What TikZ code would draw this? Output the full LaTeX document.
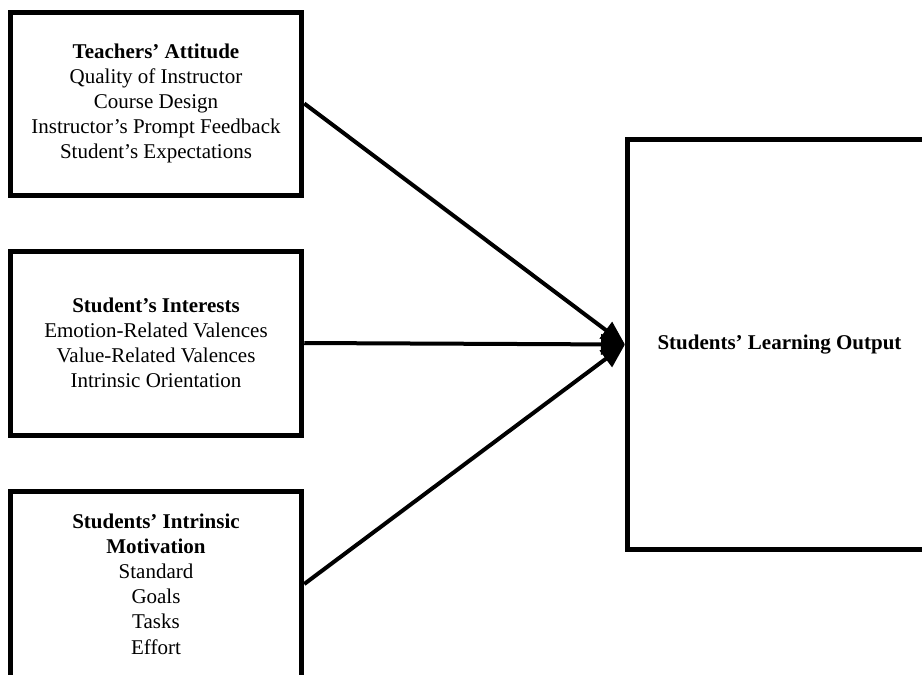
\documentclass[tikz,border=0pt]{standalone}
\usepackage{fontspec}
\setmainfont{Liberation Serif}
\usetikzlibrary{arrows.meta}
\tikzset{
	factor/.style={draw, line width=2.5pt, align=center, minimum width=145.75pt,
		font=\fontsize{10.5}{12.6}\selectfont},
	link/.style={line width=2pt, -{Triangle[length=12pt,width=10pt]}}
}

\begin{document}
\begin{tikzpicture}[x=0.5pt, y=-0.5pt]
		%%%%% START %%%%%
		
		\useasboundingbox (0, 0) rectangle (922, 675);
		\clip (0, 0) rectangle (922, 675);
		
		\node[factor, minimum height=91.5pt] (attitude) at (156, 103.5)
			{\textbf{Teachers' Attitude}\\Quality of Instructor\\Course Design\\Instructor's Prompt Feedback\\Student's Expectations};
		\node[factor, minimum height=92pt] (interests) at (156, 343)
			{\textbf{Student's Interests}\\Emotion-Related Valences\\Value-Related Valences\\Intrinsic Orientation};
		\node[factor, minimum height=93pt] (motivation) at (156, 584)
			{\textbf{Students' Intrinsic}\\\textbf{Motivation}\\Standard\\Goals\\Tasks\\Effort};
		
		\node[factor, minimum width=152pt, minimum height=205pt] (output) at (779.5, 344.5)
			{\textbf{Students' Learning Output}};
		
		\draw[link] (attitude.east) -- (output.west);
		\draw[link] (interests.east) -- (output.west);
		\draw[link] (motivation.east) -- (output.west);
		
		%%%%% END %%%%%
	\end{tikzpicture}
\end{document}
